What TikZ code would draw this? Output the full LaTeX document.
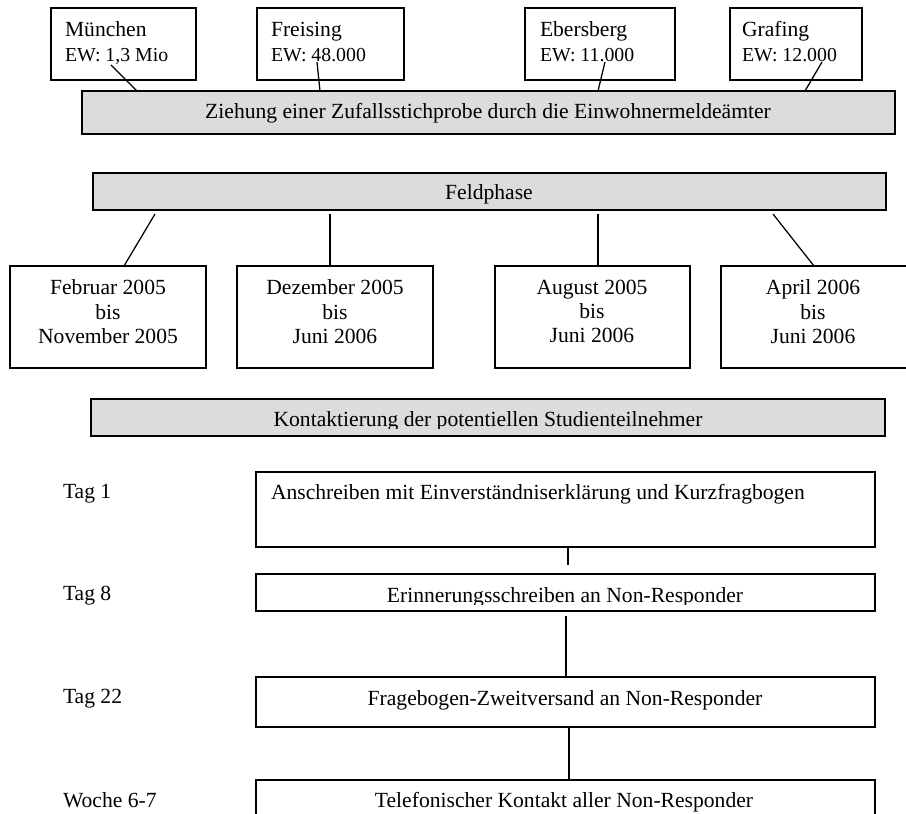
\documentclass[tikz,border=0pt]{standalone}
\usepackage{fontspec}
\setmainfont{Liberation Serif}
\usetikzlibrary{calc}
\definecolor{barfill}{RGB}{220,220,220}
\begin{document}
\begin{tikzpicture}[x=0.5556pt,y=-0.5556pt,
  frame/.style={draw=black, line width=0.9pt, inner sep=0pt, outer sep=0pt},
  bar/.style={frame, fill=barfill},
  wh/.style 2 args={minimum width=#1*0.5556pt, minimum height=#2*0.5556pt, anchor=north west},
  conn/.style={draw=black, line width=0.7pt},
  txt/.style={inner sep=0pt, outer sep=0pt, font=\fontsize{12}{13.4}\selectfont},
  small/.style={inner sep=0pt, outer sep=0pt, font=\fontsize{11}{13}\selectfont}]
\useasboundingbox (0,0) rectangle (906,814);

% ---- top: towns ----
\node[frame, wh={145}{72}] (muc) at (51,8) {};
\node[frame, wh={147}{72}] (fre) at (257,8) {};
\node[frame, wh={150}{72}] (ebe) at (525,8) {};
\node[frame, wh={132}{72}] (gra) at (730,8) {};
\node[txt, anchor=base west] (mucn) at (65,37) {München};
\node[small, anchor=base west] (muce) at (65,62) {EW: 1,3 Mio};
\node[txt, anchor=base west] (fren) at (271,37) {Freising};
\node[small, anchor=base west] (free) at (271,62) {EW: 48.000};
\node[txt, anchor=base west] (eben) at (540,37) {Ebersberg};
\node[small, anchor=base west] (ebee) at (540,62) {EW: 11.000};
\node[txt, anchor=base west] (gran) at (742,37) {Grafing};
\node[small, anchor=base west] (grae) at (742,62) {EW: 12.000};

\node[bar, wh={813}{43}] (bar1) at (82,91) {};
\node[txt, anchor=base] (bar1t) at (488,119) {Ziehung einer Zufallsstichprobe durch die Einwohnermeldeämter};

\coordinate (mucA) at (111,65);
\coordinate (freA) at (317,62);
\coordinate (ebeA) at (605,62);
\coordinate (graA) at (822,62);
\draw[conn] (mucA) -- ($(bar1.north west)+(55,0)$);
\draw[conn] (freA) -- ($(bar1.north west)+(238,0)$);
\draw[conn] (ebeA) -- ($(bar1.north west)+(516,0)$);
\draw[conn] (graA) -- ($(bar1.north west)+(723,0)$);

% ---- Feldphase ----
\node[bar, wh={793}{37}] (feld) at (93,173) {};
\node[txt, anchor=base] (feldt) at (489,200) {Feldphase};

\node[frame, wh={196}{102}] (feb) at (10,266) {};
\node[frame, wh={196}{102}] (dez) at (237,266) {};
\node[frame, wh={195}{102}] (aug) at (495,266) {};
\node[frame, wh={186}{102}] (apr) at (721,266) {};
\node[txt, align=center, anchor=north] (febt) at (108,280) {Februar 2005\\bis\\November 2005};
\node[txt, align=center, anchor=north] (dezt) at (335,280) {Dezember 2005\\bis\\Juni 2006};
\node[txt, align=center, anchor=north] (augt) at (592,280) {August 2005\\bis\\Juni 2006};
\node[txt, align=center, anchor=north] (aprt) at (813,280) {April 2006\\bis\\Juni 2006};

\draw[conn] ($(feld.south west)+(62,4)$) -- ($(feb.north west)+(114,0)$);
\draw[conn] ($(feld.south west)+(237,4)$) -- ($(dez.north west)+(93,0)$);
\draw[conn] ($(feld.south west)+(505,4)$) -- ($(aug.north west)+(103,0)$);
\draw[conn] ($(feld.south west)+(680,4)$) -- ($(apr.north west)+(93,0)$);

% ---- Kontaktierung ----
\node[bar, wh={794}{37}] (kont) at (91,399) {};
\begin{scope}
\clip (91,399) rectangle (885,428.5);
\node[txt, anchor=base] (kontt) at (488,427) {Kontaktierung der potentiellen Studienteilnehmer};
\end{scope}

% ---- steps ----
\node[frame, wh={619}{75}] (t1) at (256,472) {};
\node[frame, wh={619}{37}] (t8) at (256,574) {};
\node[frame, wh={619}{50}] (t22) at (256,677) {};
\node[frame, wh={619}{60}] (w67) at (256,780) {};

\node[txt, anchor=base west] (l1) at (63,498) {Tag 1};
\node[txt, anchor=base west] (l8) at (63,600) {Tag 8};
\node[txt, anchor=base west] (l22) at (63,703) {Tag 22};
\node[txt, anchor=base west] (l67) at (63,807) {Woche 6-7};

\node[txt, anchor=base west] (t1t) at (271,500) {Anschreiben mit Einverständniserklärung und Kurzfragbogen};
\begin{scope}
\clip (256,574) rectangle (875,604);
\node[txt, anchor=base] (t8t) at (565,602) {Erinnerungsschreiben an Non-Responder};
\end{scope}
\node[txt, anchor=base] (t22t) at (565,705) {Fragebogen-Zweitversand an Non-Responder};
\node[txt, anchor=base] (w67t) at (564,807) {Telefonischer Kontakt aller Non-Responder};

\draw[conn] ($(t1.south west)+(312,1)$) -- ($(t8.north west)+(312,-9)$);
\draw[conn] ($(t8.south west)+(310,5)$) -- ($(t22.north west)+(310,0)$);
\draw[conn] ($(t22.south west)+(313,0)$) -- ($(w67.north west)+(313,0)$);
\end{tikzpicture}
\end{document}
